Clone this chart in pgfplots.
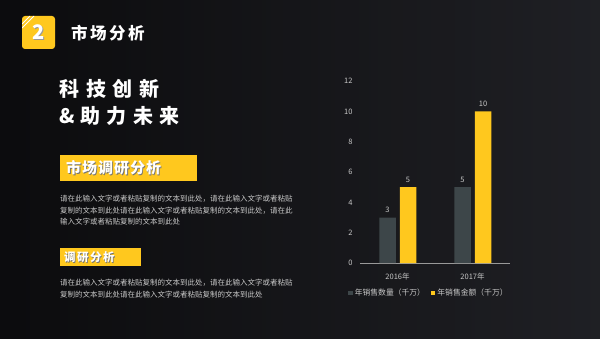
\documentclass[border=0pt]{standalone}
\usepackage{pgfplots}
\pgfplotsset{compat=1.18}
\usepackage{fontspec}
\setmainfont{Noto Sans CJK SC}
\definecolor{bgA}{HTML}{0C0C0E}
\definecolor{bgB}{HTML}{2A2B31}
\definecolor{ylw}{HTML}{FFC81E}
\definecolor{gry}{HTML}{3D4649}
\definecolor{txt}{HTML}{C8C8C8}
\newcommand{\fs}[1]{\fontsize{#1}{#1}\selectfont}
\begin{document}
\begin{tikzpicture}[x=1pt,y=1pt]
\useasboundingbox (0,0) rectangle (600,338);
\shade[left color=bgA, right color=bgB] (0,0) rectangle (600,338);
\shade[top color=bgA, bottom color=bgA, middle color=bgA, opacity=0.35] (0,0) rectangle (600,338);
% badge
\fill[ylw, rounded corners=3pt] (22,289) rectangle (55,322);
\begin{scope}
\clip[rounded corners=3pt] (22,289) rectangle (55,322);
\draw[white, line width=0.8pt] (22,314) -- (30,322);
\draw[white, line width=0.8pt] (22,310) -- (34,322);
\end{scope}
\node[text=black!40, font=\fs{20}\bfseries] at (39.3,304.7) {2};
\node[text=white, font=\fs{20}\bfseries] at (38.5,305.5) {2};
\node[anchor=west, text=white, font=\fs{16.5}\bfseries, inner sep=0] at (71,305) {市\hspace{2.5pt}场\hspace{2.5pt}分\hspace{2.5pt}析};
% big title
\node[anchor=west, text=white, font=\fs{20}\bfseries, inner sep=0] at (59.5,249) {科\hspace{6.5pt}技\hspace{6.5pt}创\hspace{6.5pt}新};
\node[anchor=west, text=white, font=\fs{20}\bfseries, inner sep=0] at (59.5,222) {\&\hspace{5pt}助\hspace{6.5pt}力\hspace{6.5pt}未\hspace{6.5pt}来};
% header 1
\fill[ylw] (60,157) rectangle (197,183);
\node[anchor=west, text=black!55, font=\fs{15}\bfseries, inner sep=0] at (66.8,169.2) {市\hspace{1pt}场\hspace{1pt}调\hspace{1pt}研\hspace{1pt}分\hspace{1pt}析};
\node[anchor=west, text=white, font=\fs{15}\bfseries, inner sep=0] at (66,170) {市\hspace{1pt}场\hspace{1pt}调\hspace{1pt}研\hspace{1pt}分\hspace{1pt}析};
\node[anchor=west, text=txt, font=\fs{7.5}, inner sep=0] at (60,139) {请在此输入文字或者粘贴复制的文本到此处，请在此输入文字或者粘贴};
\node[anchor=west, text=txt, font=\fs{7.5}, inner sep=0] at (60,127.5) {复制的文本到此处请在此输入文字或者粘贴复制的文本到此处，请在此};
\node[anchor=west, text=txt, font=\fs{7.5}, inner sep=0] at (60,116) {输入文字或者粘贴复制的文本到此处};
% header 2
\fill[ylw] (60,72) rectangle (141,90);
\node[anchor=west, text=black!55, font=\fs{11.5}\bfseries, inner sep=0] at (64.7,80.3) {调\hspace{1.5pt}研\hspace{1.5pt}分\hspace{1.5pt}析};
\node[anchor=west, text=white, font=\fs{11.5}\bfseries, inner sep=0] at (64,81) {调\hspace{1.5pt}研\hspace{1.5pt}分\hspace{1.5pt}析};
\node[anchor=west, text=txt, font=\fs{7.5}, inner sep=0] at (60,55) {请在此输入文字或者粘贴复制的文本到此处，请在此输入文字或者粘贴};
\node[anchor=west, text=txt, font=\fs{7.5}, inner sep=0] at (60,43.5) {复制的文本到此处请在此输入文字或者粘贴复制的文本到此处};
% chart
\begin{axis}[at={(360pt,75pt)}, anchor=south west, scale only axis,
  width=150pt, height=182pt, ymin=0, ymax=12, xmin=-0.5, xmax=1.5,
  xtick={0,1}, xticklabels={2016年,2017年}, ytick={0,2,...,12},
  separate axis lines, axis x line*=bottom, axis y line*=left,
  y axis line style={draw=none}, x axis line style={draw=gray!80, line width=1pt},
  tick style={draw=none},
  /pgf/number format/assume math mode=true,
  ticklabel style={text=txt, font=\fs{7.5}},
  yticklabel style={xshift=-4pt},
  xticklabel style={yshift=-2pt},
  ybar, bar width=16.5pt,
  nodes near coords, nodes near coords style={text=txt, font=\fs{7.5}, yshift=1pt},
  legend columns=2,
  legend style={draw=none, fill=none, text=txt, font=\fs{7.8}, at={(0.46,-0.165)}, anchor=center,
    /tikz/every even column/.append style={column sep=4pt}},
  legend image code/.code={\fill[#1] (0pt,-2.2pt) rectangle (4.4pt,2.2pt);},
]
\addplot[fill=gry, draw=none, bar shift=-10pt] coordinates {(0,3) (1,5)};
\addplot[fill=ylw, draw=none, bar shift=10.5pt] coordinates {(0,5) (1,10)};
\legend{年销售数量（千万）,年销售金额（千万）}
\end{axis}
\end{tikzpicture}
\end{document}
